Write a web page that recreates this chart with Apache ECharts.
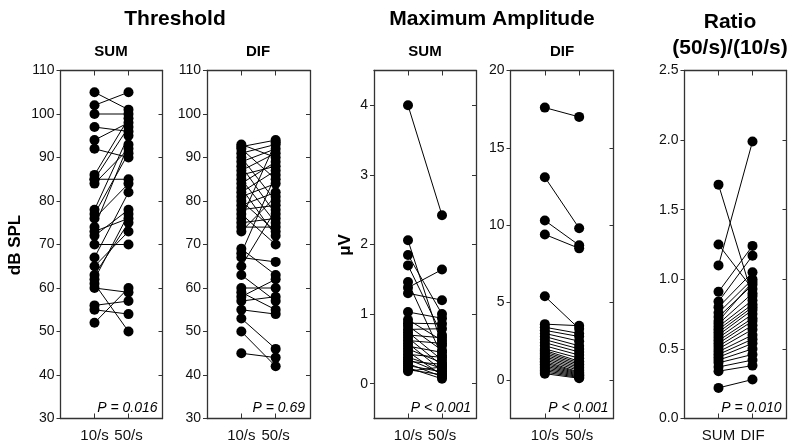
<!DOCTYPE html>
<html><head><meta charset="utf-8">
<script src="https://cdn.jsdelivr.net/npm/echarts@6/dist/echarts.min.js"></script>
<style>html,body{margin:0;padding:0;background:#fff}#c{width:800px;height:448px}</style>
</head><body><div id="c"></div>
<script>
// ---- data ----
const rateLabels = ['10/s', '50/s'];
const groupLabels = ['SUM', 'DIF'];
const thrSum10 = [105,102,100,97,94,92,86,85,85,84,78,77,76,74,73,72,70,67,65,63,62,61,60,56,55,52];
const thrSum50 = [101,105,100,96,98,90,99,97,85,92,95,91,84,93,76,78,70,82,73,75,77,50,59,57,54,60];
const thrDif10 = [93,92.5,92,91,90,89,88,87,86,85,84,83,82,81,80,79,78,77,76,75,74,73,69,68,67,65,63,60,59,58,57,55,53,50,45];
const thrDif50 = [90,94,85,93,80,92,77,91,88,75,89,72,87,84,73,82,79,70,93.5,76,74,81,63,86,66,78,57,60,55,62,58,54,46,42,44];
const ampSum10 = [4.0,2.06,1.85,1.70,1.46,1.38,1.30,1.03,0.92,0.87,0.83,0.78,0.74,0.70,0.66,0.62,0.58,0.54,0.50,0.46,0.42,0.38,0.35,0.32,0.29,0.26,0.23,0.20,0.18];
const ampSum50 = [2.42,0.55,1.00,0.70,0.40,1.64,1.20,0.94,0.62,0.86,0.48,0.79,0.34,0.66,0.26,0.58,0.19,0.45,0.30,0.12,0.38,0.22,0.15,0.28,0.10,0.17,0.07,0.13,0.24];
const ampDif10 = [17.6,13.1,10.3,9.4,5.4,3.6,3.4,3.2,3.0,2.8,2.6,2.4,2.2,2.0,1.9,1.8,1.7,1.6,1.5,1.4,1.3,1.2,1.1,1.0,0.9,0.8,0.7,0.6,0.5,0.4];
const ampDif50 = [17.0,9.8,8.7,8.5,3.3,3.5,3.0,2.8,2.5,2.2,2.0,1.8,1.6,1.4,1.2,1.1,1.0,0.9,0.8,0.7,0.6,0.5,0.45,0.4,0.35,0.3,0.25,0.2,0.15,0.1];
const ratioSum = [1.68,1.25,1.10,0.91,0.84,0.80,0.76,0.73,0.70,0.68,0.66,0.64,0.62,0.60,0.58,0.56,0.54,0.52,0.50,0.48,0.46,0.44,0.42,0.40,0.37,0.34,0.22];
const ratioDif = [0.88,0.93,1.99,1.24,1.17,1.05,1.00,0.96,0.98,0.90,0.85,0.82,0.80,0.78,0.75,0.72,0.70,0.67,0.64,0.60,0.57,0.54,0.50,0.46,0.42,0.38,0.28];
const thrTicks = [30,40,50,60,70,80,90,100,110];
const ampSumTicks = [0,1,2,3,4];
const ampDifTicks = [0,5,10,15,20];
const ratioTicks = [0,0.5,1,1.5,2,2.5];
const pTexts = ['P = 0.016','P = 0.69','P < 0.001','P < 0.001','P = 0.010'];

// ---- layout ----
const TOP = 70.5, H = 348;
const panels = [
  {l:60.5, w:102, min:30, max:110, ticks:thrTicks, a:thrSum10, b:thrSum50, xl:rateLabels, fmt:v=>String(v)},
  {l:207, w:103, min:30, max:110, ticks:thrTicks, a:thrDif10, b:thrDif50, xl:rateLabels, fmt:v=>String(v)},
  {l:374, w:102, min:-0.5, max:4.5, ticks:ampSumTicks, a:ampSum10, b:ampSum50, xl:rateLabels, fmt:v=>String(v)},
  {l:510.5, w:103, min:-2.5, max:20, ticks:ampDifTicks, a:ampDif10, b:ampDif50, xl:rateLabels, fmt:v=>String(v)},
  {l:684.5, w:102, min:0, max:2.5, ticks:ratioTicks, a:ratioSum, b:ratioDif, xl:groupLabels, fmt:v=>v.toFixed(1)}
];
const FONT = 'Liberation Sans, Arial, sans-serif';
const axisLineStyle = {color:'#333', width:1.3};
const grid = [], xAxis = [], yAxis = [], series = [];
panels.forEach((p, i) => {
  grid.push({left:p.l, top:TOP, width:p.w, height:H, show:false});
  xAxis.push({gridIndex:i, type:'value', min:0, max:3, position:'bottom',
    axisLine:{onZero:false, lineStyle:axisLineStyle}, splitLine:{show:false},
    axisTick:{inside:true, length:5, customValues:[1,2], lineStyle:{color:'#333'}},
    axisLabel:{customValues:[1,2], formatter:v=>p.xl[Math.round(v)-1], fontSize:15, color:'#111', margin:10, fontFamily:FONT}});
  xAxis.push({gridIndex:i, type:'value', min:0, max:3, position:'top',
    axisLine:{onZero:false, lineStyle:axisLineStyle}, splitLine:{show:false},
    axisTick:{inside:true, length:5, customValues:[1,2], lineStyle:{color:'#333'}},
    axisLabel:{show:false}});
  yAxis.push({gridIndex:i, type:'value', min:p.min, max:p.max, position:'left',
    axisLine:{onZero:false, lineStyle:axisLineStyle}, splitLine:{show:false},
    axisTick:{inside:false, length:4, customValues:p.ticks, lineStyle:{color:'#333'}},
    axisLabel:{customValues:p.ticks, formatter:p.fmt, fontSize:14, color:'#111', margin:6, fontFamily:FONT}});
  yAxis.push({gridIndex:i, type:'value', min:p.min, max:p.max, position:'right',
    axisLine:{onZero:false, lineStyle:axisLineStyle}, splitLine:{show:false},
    axisTick:{inside:true, length:4, customValues:p.ticks, lineStyle:{color:'#333'}},
    axisLabel:{show:false}});
  for (let k = 0; k < p.a.length; k++) {
    series.push({type:'line', xAxisIndex:2*i, yAxisIndex:2*i, silent:true, animation:false,
      data:[[1, p.a[k]], [2, p.b[k]]], symbol:'circle', symbolSize:10, showSymbol:true,
      itemStyle:{color:'#000'}, lineStyle:{color:'#000', width:1}});
  }
});
function txt(x, y, text, size, opts) {
  return {type:'text', x:x, y:y, silent:true, style:Object.assign({text:text, fontSize:size,
    fontFamily:FONT, fill:'#000', align:'center', verticalAlign:'middle'}, opts || {})};
}
const graphic = [
  txt(175, 19, 'Threshold', 21, {fontWeight:'bold'}),
  txt(492, 19, 'Maximum Amplitude', 21, {fontWeight:'bold'}),
  txt(730, 22, 'Ratio', 21, {fontWeight:'bold'}),
  txt(730, 48, '(50/s)/(10/s)', 21, {fontWeight:'bold'}),
  txt(111, 52, 'SUM', 15, {fontWeight:'bold'}),
  txt(258, 52, 'DIF', 15, {fontWeight:'bold'}),
  txt(425, 52, 'SUM', 15, {fontWeight:'bold'}),
  txt(562, 52, 'DIF', 15, {fontWeight:'bold'}),
  Object.assign(txt(0, 0, 'dB SPL', 17, {fontWeight:'bold'}), {x:15, y:245, rotation:Math.PI/2}),
  Object.assign(txt(0, 0, 'μV', 17, {fontWeight:'bold'}), {x:345, y:245, rotation:Math.PI/2})
];
panels.forEach((p, i) => {
  graphic.push(txt(p.l + p.w - 5, 408, pTexts[i], 14, {fontStyle:'italic', align:'right'}));
});
const chart = echarts.init(document.getElementById('c'), null, {renderer:'canvas'});
chart.setOption({animation:false, grid, xAxis, yAxis, series, graphic});
</script></body></html>
